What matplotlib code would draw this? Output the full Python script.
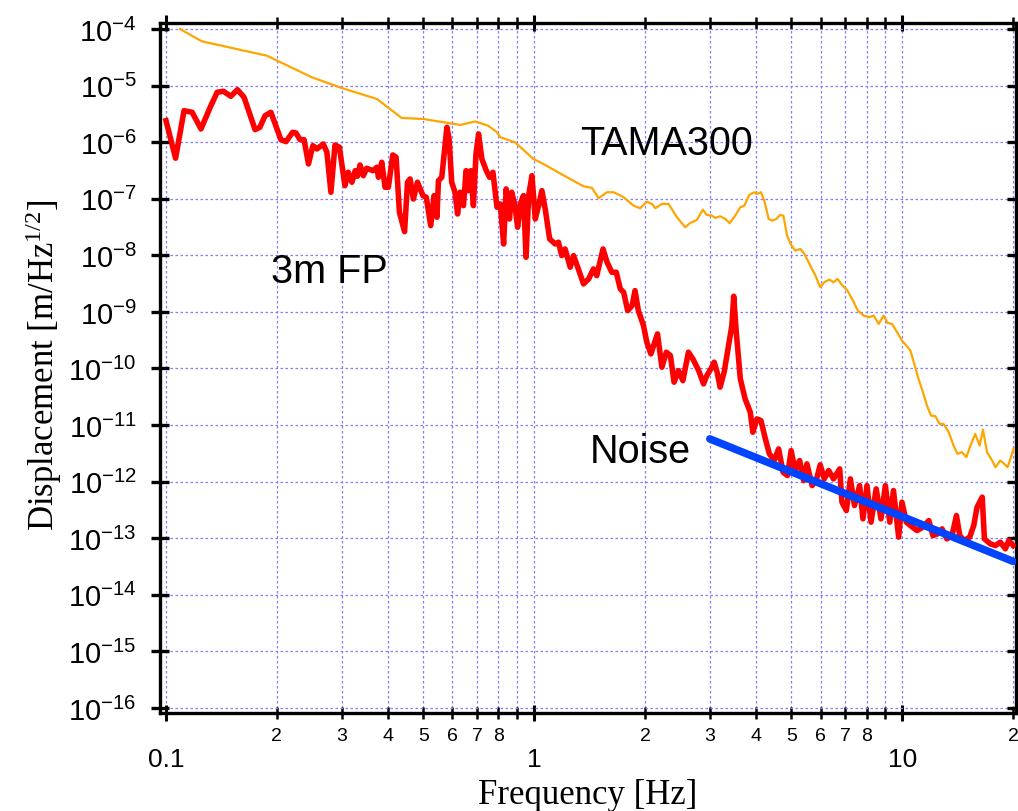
import numpy as np
import matplotlib
matplotlib.use("Agg")
import matplotlib.pyplot as plt
from matplotlib.ticker import FixedLocator, FixedFormatter, NullFormatter

plt.rcParams['font.family'] = ['Liberation Sans', 'DejaVu Sans']
plt.rcParams['mathtext.default'] = 'regular'

# ---- data (log10 of frequency [Hz] and displacement [m/Hz^1/2]) ----
fp3m_log10_freq = [
    -1.000, -0.974, -0.951, -0.929, -0.905, -0.880, -0.861, -0.844, -0.824, -0.806,
    -0.788, -0.758, -0.745, -0.731, -0.715, -0.688, -0.674, -0.656, -0.647, -0.636,
    -0.625, -0.613, -0.601, -0.590, -0.573, -0.563, -0.552, -0.541, -0.529, -0.514,
    -0.505, -0.495, -0.486, -0.480, -0.473, -0.464, -0.455, -0.438, -0.427, -0.423,
    -0.414, -0.405, -0.396, -0.384, -0.375, -0.366, -0.352, -0.344, -0.337, -0.328,
    -0.317, -0.302, -0.293, -0.281, -0.272, -0.264, -0.260, -0.251, -0.237, -0.231,
    -0.224, -0.215, -0.208, -0.201, -0.192, -0.185, -0.179, -0.172, -0.165, -0.158,
    -0.151, -0.142, -0.130, -0.121, -0.112, -0.101, -0.092, -0.083, -0.076, -0.067,
    -0.061, -0.052, -0.045, -0.036, -0.029, -0.022, -0.015, -0.006, 0.003, 0.012,
    0.021, 0.030, 0.042, 0.057, 0.066, 0.075, 0.084, 0.098, 0.107, 0.120,
    0.134, 0.148, 0.161, 0.170, 0.187, 0.198, 0.211, 0.223, 0.234, 0.243,
    0.254, 0.266, 0.274, 0.283, 0.297, 0.306, 0.317, 0.329, 0.335, 0.347,
    0.359, 0.370, 0.380, 0.392, 0.404, 0.419, 0.431, 0.447, 0.460, 0.469,
    0.480, 0.489, 0.497, 0.505, 0.516, 0.528, 0.537, 0.542, 0.549, 0.560,
    0.573, 0.587, 0.594, 0.605, 0.616, 0.628, 0.639, 0.652, 0.664, 0.676,
    0.688, 0.698, 0.709, 0.721, 0.732, 0.741, 0.755, 0.766, 0.777, 0.788,
    0.800, 0.813, 0.830, 0.836, 0.848, 0.859, 0.870, 0.884, 0.893, 0.904,
    0.915, 0.929, 0.942, 0.954, 0.966, 0.976, 0.990, 0.999, 1.011, 1.022,
    1.040, 1.056, 1.072, 1.083, 1.096, 1.108, 1.121, 1.135, 1.147, 1.156,
    1.168, 1.183, 1.194, 1.203, 1.217, 1.223, 1.239, 1.253, 1.266, 1.280,
    1.289, 1.301,
]
fp3m_log10_disp = [
    -5.620, -6.284, -5.443, -5.472, -5.767, -5.383, -5.118, -5.101, -5.189, -5.072,
    -5.207, -5.779, -5.737, -5.532, -5.472, -5.956, -5.991, -5.825, -5.837, -5.956,
    -5.956, -6.385, -6.062, -6.120, -6.032, -6.178, -6.885, -6.050, -6.090, -6.769,
    -6.532, -6.708, -6.504, -6.602, -6.403, -6.592, -6.461, -6.504, -6.443, -6.620,
    -6.355, -6.797, -6.797, -6.226, -6.267, -7.239, -7.581, -6.708, -6.650, -7.004,
    -6.708, -6.945, -6.974, -7.475, -6.945, -7.327, -6.680, -6.620, -5.737, -5.943,
    -6.708, -6.885, -7.269, -6.885, -7.122, -6.504, -6.857, -6.504, -7.122, -6.209,
    -5.855, -6.297, -6.504, -6.620, -6.532, -7.150, -7.092, -7.799, -6.827, -7.357,
    -6.885, -7.122, -7.504, -7.062, -6.945, -8.034, -6.945, -6.592, -7.357, -7.122,
    -6.857, -7.180, -7.710, -7.799, -7.769, -8.005, -7.887, -8.210, -8.005, -8.240,
    -8.505, -8.417, -8.240, -8.359, -7.887, -8.122, -8.299, -8.299, -8.594, -8.652,
    -8.977, -8.889, -8.624, -8.977, -9.242, -9.535, -9.742, -9.507, -9.389, -9.977,
    -9.712, -9.772, -10.242, -10.037, -10.214, -9.712, -9.830, -10.037, -10.272, -10.126,
    -10.007, -9.889, -10.066, -10.330, -10.066, -9.595, -9.242, -8.723, -9.359, -10.184,
    -10.537, -10.772, -11.126, -10.891, -10.920, -11.244, -11.509, -11.627, -11.421, -11.832,
    -11.892, -11.451, -11.804, -11.627, -11.981, -11.686, -12.069, -11.981, -11.703, -11.951,
    -11.804, -11.951, -11.774, -12.362, -12.510, -11.951, -12.422, -12.069, -12.657, -12.069,
    -12.716, -12.127, -12.657, -12.069, -12.716, -12.157, -12.981, -12.362, -12.716, -12.776,
    -12.864, -12.804, -12.687, -12.952, -12.922, -12.834, -13.011, -12.952, -12.599, -12.952,
    -13.041, -12.981, -12.776, -12.451, -12.274, -13.011, -13.099, -13.129, -13.069, -13.187,
    -13.041, -13.129,
]

tama_log10_freq = [
    -0.962, -0.903, -0.726, -0.604, -0.523, -0.427, -0.360, -0.301, -0.201, -0.160,
    -0.125, -0.101, -0.092, -0.052, -0.002, 0.025, 0.089, 0.134, 0.157, 0.175,
    0.198, 0.216, 0.243, 0.270, 0.288, 0.306, 0.320, 0.329, 0.347, 0.365,
    0.388, 0.410, 0.424, 0.442, 0.458, 0.469, 0.483, 0.492, 0.505, 0.519,
    0.531, 0.546, 0.560, 0.571, 0.584, 0.598, 0.605, 0.616, 0.625, 0.637,
    0.646, 0.658, 0.668, 0.677, 0.687, 0.698, 0.709, 0.723, 0.734, 0.750,
    0.764, 0.777, 0.788, 0.802, 0.813, 0.824, 0.836, 0.851, 0.866, 0.879,
    0.895, 0.911, 0.922, 0.936, 0.949, 0.960, 0.972, 0.986, 0.999, 1.011,
    1.022, 1.035, 1.044, 1.056, 1.067, 1.078, 1.090, 1.101, 1.112, 1.126,
    1.139, 1.150, 1.162, 1.174, 1.185, 1.198, 1.210, 1.219, 1.230, 1.244,
    1.253, 1.266, 1.277, 1.286, 1.295, 1.302,
]
tama_log10_disp = [
    -4.000, -4.217, -4.472, -4.853, -5.042, -5.237, -5.572, -5.590, -5.696, -5.634,
    -5.708, -5.825, -5.913, -6.002, -6.297, -6.385, -6.620, -6.779, -6.809, -6.991,
    -6.885, -6.885, -6.974, -7.122, -7.168, -7.051, -7.092, -7.168, -7.092, -7.092,
    -7.327, -7.504, -7.428, -7.375, -7.193, -7.286, -7.299, -7.339, -7.309, -7.357,
    -7.433, -7.299, -7.150, -7.122, -6.933, -6.885, -6.915, -6.885, -7.034, -7.357,
    -7.387, -7.357, -7.286, -7.299, -7.652, -7.816, -7.917, -7.887, -7.975, -8.182,
    -8.359, -8.564, -8.475, -8.429, -8.475, -8.417, -8.523, -8.624, -8.800, -8.977,
    -9.065, -9.094, -9.065, -9.212, -9.065, -9.194, -9.212, -9.359, -9.507, -9.595,
    -9.684, -9.977, -10.184, -10.419, -10.656, -10.832, -10.843, -10.979, -10.979, -11.126,
    -11.362, -11.509, -11.479, -11.567, -11.362, -11.156, -11.362, -11.080, -11.479, -11.627,
    -11.744, -11.627, -11.686, -11.744, -11.567, -11.421,
]

noise_freq = [3.0, 20.0]
noise_disp = [5.7e-12, 3.9e-14]

x_major = [0.1, 1, 10]
x_major_labels = ['0.1', '1', '10']
x_minor = [0.2, 0.3, 0.4, 0.5, 0.6, 0.7, 0.8, 0.9,
           2, 3, 4, 5, 6, 7, 8, 9, 20]
x_minor_labels = ['2', '3', '4', '5', '6', '7', '8', '',
                  '2', '3', '4', '5', '6', '7', '8', '', '2']
y_exponents = list(range(-16, -3))

# ---- figure ----
fig = plt.figure(figsize=(10.18, 8.12), dpi=100)
ax = fig.add_axes([160/1018, 1 - 714/812, (1016-160)/1018, (714-24)/812])

ax.plot(10**np.array(tama_log10_freq), 10**np.array(tama_log10_disp),
        color='#ffa500', lw=1.6, zorder=3)
ax.plot(10**np.array(fp3m_log10_freq), 10**np.array(fp3m_log10_disp),
        color='#ff0000', lw=4.0, zorder=4, solid_joinstyle='round')
ax.plot(noise_freq, noise_disp, color='#0044ff', lw=5.5, zorder=5,
        solid_capstyle='round')

ax.set_xscale('log')
ax.set_yscale('log')
ax.set_xlim(10**(-1 - 6/368), 10**(1.302 + 2.5/368))
ax.set_ylim(10**(-16 - 5/56.6), 10**(-4 + 6/56.6))

ax.xaxis.set_major_locator(FixedLocator(x_major))
ax.xaxis.set_major_formatter(FixedFormatter(x_major_labels))
ax.xaxis.set_minor_locator(FixedLocator(x_minor))
ax.xaxis.set_minor_formatter(FixedFormatter(x_minor_labels))

yt = [10.0**e for e in y_exponents]
ax.yaxis.set_major_locator(FixedLocator(yt))
ax.yaxis.set_major_formatter(FixedFormatter([r'$10^{%d}$' % e for e in y_exponents]))
ax.yaxis.set_minor_locator(FixedLocator([]))
ax.yaxis.set_minor_formatter(NullFormatter())

ax.tick_params(axis='x', which='major', direction='inout', length=11.5, width=2.2,
               top=True, bottom=True, labelsize=19, pad=18.5)
ax.tick_params(axis='x', which='minor', direction='inout', length=8, width=1.8,
               top=True, bottom=True, labelsize=14, pad=6)
ax.tick_params(axis='y', which='major', direction='inout', length=13.5, width=2.4,
               left=True, right=True, labelsize=21, pad=10)

for s in ax.spines.values():
    s.set_linewidth(2.4)

ax.grid(True, which='major', axis='both', color='#7f7fff', linestyle=(0, (2, 2)), lw=0.9)
ax.grid(True, which='minor', axis='x', color='#7f7fff', linestyle=(0, (2, 2)), lw=0.9)
ax.set_axisbelow(True)

serif = ['Liberation Serif', 'DejaVu Serif']
ax.set_xlabel('Frequency [Hz]', family=serif, fontsize=25)
ax.xaxis.set_label_coords(0.5, -0.0935)
ax.set_ylabel(r'Displacement [m/Hz$^{1/2}$]', family=serif, fontsize=25)
ax.yaxis.set_label_coords(-0.112, 0.506)

ax.text(2.29, 6.2e-7, 'TAMA300', fontsize=28.5, ha='center', va='baseline', zorder=6)
ax.text(0.277, 3.4e-9, '3m FP', fontsize=28.5, ha='center', va='baseline', zorder=6)
ax.text(1.94, 2.24e-12, 'Noise', fontsize=28.5, ha='center', va='baseline', zorder=6)

fig.savefig('out.png', dpi=100)
